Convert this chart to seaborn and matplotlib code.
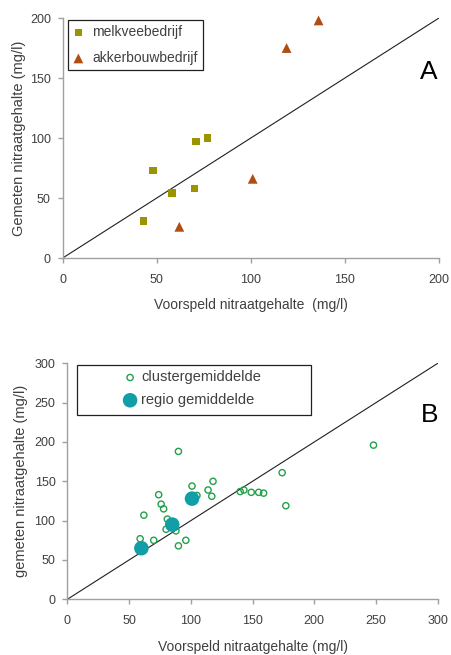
import matplotlib
matplotlib.use("Agg")
import matplotlib.pyplot as plt
import matplotlib.patches as mpatches
import seaborn as sns
import pandas as pd

# ---- Data: panel A ----
melkvee_pred = [43, 48, 58, 70, 71, 77]
melkvee_meas = [31, 73, 54, 58, 97, 100]
akker_pred = [62, 101, 119, 136]
akker_meas = [26, 66, 175, 198]

# ---- Data: panel B ----
cluster_pred = [248, 90, 174, 177, 118, 101, 114, 117, 105, 74, 76, 78, 62, 81, 80, 88,
                59, 70, 96, 90, 140, 143, 149, 155, 159]
cluster_meas = [196, 188, 161, 119, 150, 144, 139, 131, 132, 133, 121, 115, 107, 102, 89, 87,
                77, 75, 75, 68, 137, 139, 136, 136, 135]
regio_pred = [60, 85, 101]
regio_meas = [65, 95, 128]

ticks_a = [0, 50, 100, 150, 200]
ticks_b = [0, 50, 100, 150, 200, 250, 300]

sns.set_theme(style="ticks")
plt.rcParams["font.family"] = ["Liberation Sans", "DejaVu Sans"]
TXT = "#404040"
GRAY = "#a0a0a0"

fig = plt.figure(figsize=(4.52, 6.55), dpi=100)
axA = fig.add_axes([0.1387, 0.6061, 0.8325, 0.3664])
axB = fig.add_axes([0.1489, 0.0850, 0.8195, 0.3603])

dfA1 = pd.DataFrame({"x": melkvee_pred, "y": melkvee_meas})
dfA2 = pd.DataFrame({"x": akker_pred, "y": akker_meas})
sns.scatterplot(data=dfA1, x="x", y="y", ax=axA, marker="s", s=30, color="#9c9300",
                edgecolor="none", label="melkveebedrijf", clip_on=False, zorder=3)
sns.scatterplot(data=dfA2, x="x", y="y", ax=axA, marker="^", s=50, color="#b04d12",
                edgecolor="none", label="akkerbouwbedrijf", clip_on=False, zorder=3)
axA.axline((0, 0), slope=1, color="#202020", lw=0.8, zorder=2)

dfB1 = pd.DataFrame({"x": cluster_pred, "y": cluster_meas})
dfB2 = pd.DataFrame({"x": regio_pred, "y": regio_meas})
sns.scatterplot(data=dfB1, x="x", y="y", ax=axB, marker="o", s=20, facecolor="none",
                edgecolor="#22a04a", linewidth=1.0, label="clustergemiddelde", zorder=3)
sns.scatterplot(data=dfB2, x="x", y="y", ax=axB, marker="o", s=110, color="#129ea6",
                edgecolor="none", label="regio gemiddelde", zorder=4)
axB.axline((0, 0), slope=1, color="#202020", lw=0.8, zorder=2)

for ax, ticks in ((axA, ticks_a), (axB, ticks_b)):
    ax.set_xlim(ticks[0], ticks[-1])
    ax.set_ylim(ticks[0], ticks[-1])
    ax.set_xticks(ticks)
    ax.set_yticks(ticks)
    ax.set_xticklabels([str(t) for t in ticks])
    ax.set_yticklabels([str(t) for t in ticks])
    for side in ("top", "right"):
        ax.spines[side].set_visible(False)
    for side in ("left", "bottom"):
        ax.spines[side].set_color(GRAY)
        ax.spines[side].set_linewidth(1.0)
    ax.tick_params(axis="both", colors=GRAY, labelcolor=TXT, labelsize=9, length=3.5,
                   width=1.0, direction="out")
    ax.tick_params(axis="x", pad=8)
    ax.tick_params(axis="y", pad=5)

axA.set_xlabel("Voorspeld nitraatgehalte  (mg/l)", fontsize=10, color=TXT, labelpad=9)
axA.set_ylabel("Gemeten nitraatgehalte (mg/l)", fontsize=10.5, color=TXT, labelpad=3)
axB.set_xlabel("Voorspeld nitraatgehalte (mg/l)", fontsize=10, color=TXT, labelpad=9)
axB.set_ylabel("gemeten nitraatgehalte (mg/l)", fontsize=10.5, color=TXT, labelpad=5)

legA = axA.legend(loc="upper left", bbox_to_anchor=(0.014, 0.99), frameon=True,
                  fancybox=False, edgecolor="#202020", framealpha=1, fontsize=10,
                  handlelength=0.8, handletextpad=0.6, labelspacing=0.85,
                  borderpad=0.35, borderaxespad=0)
legA.get_frame().set_linewidth(0.9)
for t in legA.get_texts():
    t.set_color(TXT)

# panel B: box drawn separately, legend entries placed inside it
box = mpatches.Rectangle((0.0254, 0.7797), 0.6317, 0.2118, transform=axB.transAxes,
                         facecolor="white", edgecolor="#202020", linewidth=0.9,
                         zorder=5, clip_on=False)
axB.add_patch(box)
legB = axB.legend(loc="upper left", bbox_to_anchor=(0.138, 0.995), frameon=False,
                  fontsize=10.5, handlelength=0.8, handletextpad=0.35,
                  labelspacing=0.6, borderpad=0.4, borderaxespad=0)
legB.set_zorder(6)
for t in legB.get_texts():
    t.set_color(TXT)

axA.text(0.973, 0.775, "A", transform=axA.transAxes, ha="center", va="center",
         fontsize=19, color="#000000")
axB.text(0.979, 0.781, "B", transform=axB.transAxes, ha="center", va="center",
         fontsize=19, color="#000000")

fig.savefig("out.png", dpi=100, facecolor="white")
